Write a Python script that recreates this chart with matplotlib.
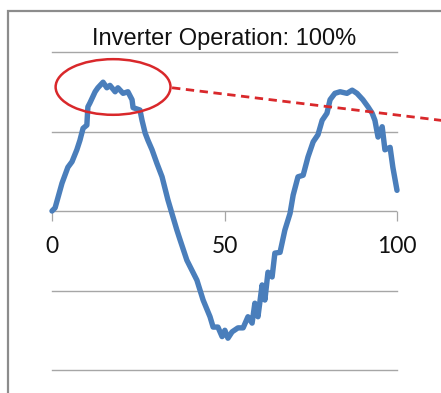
import matplotlib.pyplot as plt
from matplotlib.patches import Ellipse, Rectangle

# output waveform of the inverter (time index vs. normalized output)
t = [0, 0.9, 2.9, 4.6, 5.8, 7.2, 8.1, 9.0, 10.1, 10.4, 11.0, 12.5, 13.3, 14.8,
     15.9, 16.8, 18.3, 19.1, 20.6, 22.0, 23.2, 23.5, 25.5, 26.1, 27.0, 27.8,
     29.0, 30.4, 31.9, 33.6, 35.1, 36.2, 37.1, 39.1, 42.0, 43.8, 45.8, 46.7,
     48.1, 49.3, 50.1, 51.0, 52.2, 53.9, 55.4, 56.8, 58.0, 58.8, 59.7, 60.9,
     61.7, 62.6, 63.8, 64.6, 66.1, 67.5, 69.0, 69.9, 71.3, 72.8, 74.2, 75.7,
     77.1, 78.3, 79.7, 80.6, 82.0, 83.5, 85.5, 87.0, 88.4, 90.1, 91.6, 92.8,
     93.6, 94.5, 95.7, 96.5, 98.0, 98.8, 100]
output = [0.00, 0.04, 0.35, 0.55, 0.62, 0.77, 0.89, 1.04, 1.08, 1.31, 1.36, 1.50,
          1.55, 1.62, 1.55, 1.58, 1.50, 1.55, 1.48, 1.50, 1.40, 1.30, 1.27, 1.14,
          0.98, 0.89, 0.77, 0.60, 0.43, 0.14, -0.08, -0.24, -0.36, -0.62, -0.87,
          -1.12, -1.33, -1.46, -1.46, -1.58, -1.50, -1.60, -1.52, -1.47, -1.47,
          -1.33, -1.41, -1.16, -1.33, -0.93, -1.12, -0.77, -0.83, -0.53, -0.52,
          -0.24, -0.03, 0.20, 0.43, 0.45, 0.68, 0.87, 0.96, 1.14, 1.23, 1.40,
          1.48, 1.50, 1.48, 1.52, 1.48, 1.40, 1.31, 1.23, 1.14, 0.93, 1.06, 0.77,
          0.80, 0.55, 0.26]

x_ticks = [0, 50, 100]
grid_levels = [-2, -1, 1, 2]
title = 'Inverter Operation: 100%'

W, H = 441, 393
fig = plt.figure(figsize=(W / 100, H / 100), dpi=100)

# outer chart frame (continues past the right and bottom edges)
fig.patches.append(Rectangle((8 / W, -0.1), 1.2, 1 - 11 / H + 0.1,
                             transform=fig.transFigure, fill=False,
                             edgecolor='#8c8c8c', linewidth=1.6))

ax = fig.add_axes([52 / W, 23 / H, 345 / W, 318 / H])
ax.set_xlim(0, 100)
ax.set_ylim(-2, 2)
for s in ax.spines.values():
    s.set_visible(False)
ax.patch.set_alpha(0)

for lv in grid_levels:
    ax.axhline(lv, color='#a6a6a6', linewidth=1.0, zorder=1, clip_on=False)
ax.axhline(0, color='#a6a6a6', linewidth=1.0, zorder=1)

ax.set_yticks([])
ax.set_xticks(x_ticks)
ax.xaxis.set_ticks_position('bottom')
ax.spines['bottom'].set_position(('data', 0))
ax.tick_params(axis='x', direction='out', length=7, width=0.9, color='#a6a6a6',
               pad=11, labelsize=16.5, labelcolor='#111111')
for lab in ax.get_xticklabels():
    lab.set_fontfamily('Lato')

ax.plot(t, output, color='#4a7ebb', linewidth=3.9, solid_joinstyle='round',
        solid_capstyle='round', zorder=3, clip_on=False)

ax.set_title(title, fontsize=17, fontfamily='Liberation Sans', pad=5, color='#111111')

# highlight of the first peak and the callout leader
ax.add_patch(Ellipse((17.7, 1.56), 33.3, 0.70, fill=False, edgecolor='#d9282b',
                     linewidth=1.8, zorder=4, clip_on=False))
ax.plot([34.8, 112.8], [1.55, 1.14], color='#d9282b', linewidth=2.0,
        linestyle=(0, (3, 2)), zorder=4, clip_on=False)

fig.savefig('out.png', dpi=100)
